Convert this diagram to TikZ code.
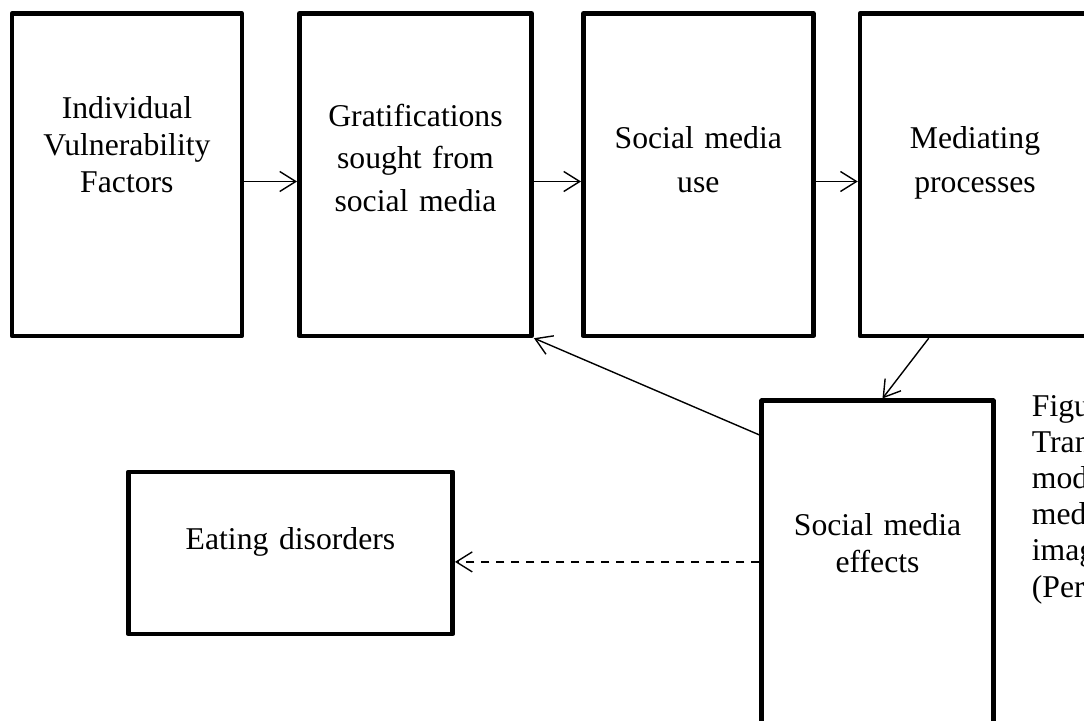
\documentclass[tikz,border=0pt]{standalone}
\usepackage{fontspec}
\setmainfont{Liberation Serif}
\usetikzlibrary{arrows.meta}
\tikzset{
  stagebox/.style={draw,line width=4.5pt,line join=round,minimum width=230pt,minimum height=322.5pt,inner sep=0pt},
  stagetext/.style={anchor=base,text width=228pt,align=center,inner sep=0pt,font=\fontsize{31.7}{37}\selectfont},
  flow/.style={line width=1.4pt,-{Straight Barb[length=16pt,width=20pt]}},
}

\begin{document}
\begin{tikzpicture}[x=1pt,y=-1pt]
\useasboundingbox (0,0) rectangle (1084,720);
\clip (0,0) rectangle (1084,720);
% top row of stages
\node[stagebox,minimum width=229.7pt] (ivf) at (126.9,174.7) {};
\node[stagebox,minimum width=232.4pt] (grat) at (415.5,174.7) {};
\node[stagebox] (smuse) at (698.3,174.7) {};
\node[stagebox] (medp) at (975,174.7) {};
\node[stagetext] (ivflbl) at (126.9,118) {Individual\\Vulnerability\\Factors};
\node[stagetext,font=\fontsize{31.7}{42.5}\selectfont] (gratlbl) at (415.5,126) {Gratifications\\sought from\\social media};
\node[stagetext,font=\fontsize{31.7}{44.5}\selectfont] (smuselbl) at (698.3,148) {Social media\\use};
\node[stagetext,font=\fontsize{31.7}{44.5}\selectfont] (medplbl) at (975,148) {Mediating\\processes};
% lower stages
\node[stagebox,minimum width=231.6pt,minimum height=360pt] (smfx) at (877.5,580.7) {};
\node[stagetext] (smfxlbl) at (877.5,535) {Social media\\effects};
\node[stagebox,minimum width=324.4pt,minimum height=162.3pt] (edis) at (290.5,552.9) {};
\node[stagetext,text width=320pt] (edislbl) at (290.5,549) {Eating disorders};
% caption, cut at the page edge
\node[anchor=base west,text width=120pt,align=left,inner sep=0pt,font=\fontsize{31.7}{36.2}\selectfont] (capt) at (1031.7,416) {Figu\\Tran\\mod\\med\\imag\\(Per};
% connectors
\draw[flow] ([yshift=-6.8pt]ivf.east) -- ([yshift=-6.8pt]grat.west);
\draw[flow] ([yshift=-6.8pt]grat.east) -- ([yshift=-6.8pt]smuse.west);
\draw[flow] ([yshift=-6.8pt]smuse.east) -- ([yshift=-6.8pt]medp.west);
\draw[flow] ([xshift=71pt]medp.south west) -- ([xshift=5pt]smfx.north);
\draw[flow] ([yshift=-36.5pt]smfx.north west) -- (grat.south east);
\coordinate (dashin) at ([yshift=-9pt]edis.east);
\draw[flow,dash pattern=on 8pt off 7pt] (dashin -| smfx.west) -- (dashin);
\end{tikzpicture}
\end{document}
